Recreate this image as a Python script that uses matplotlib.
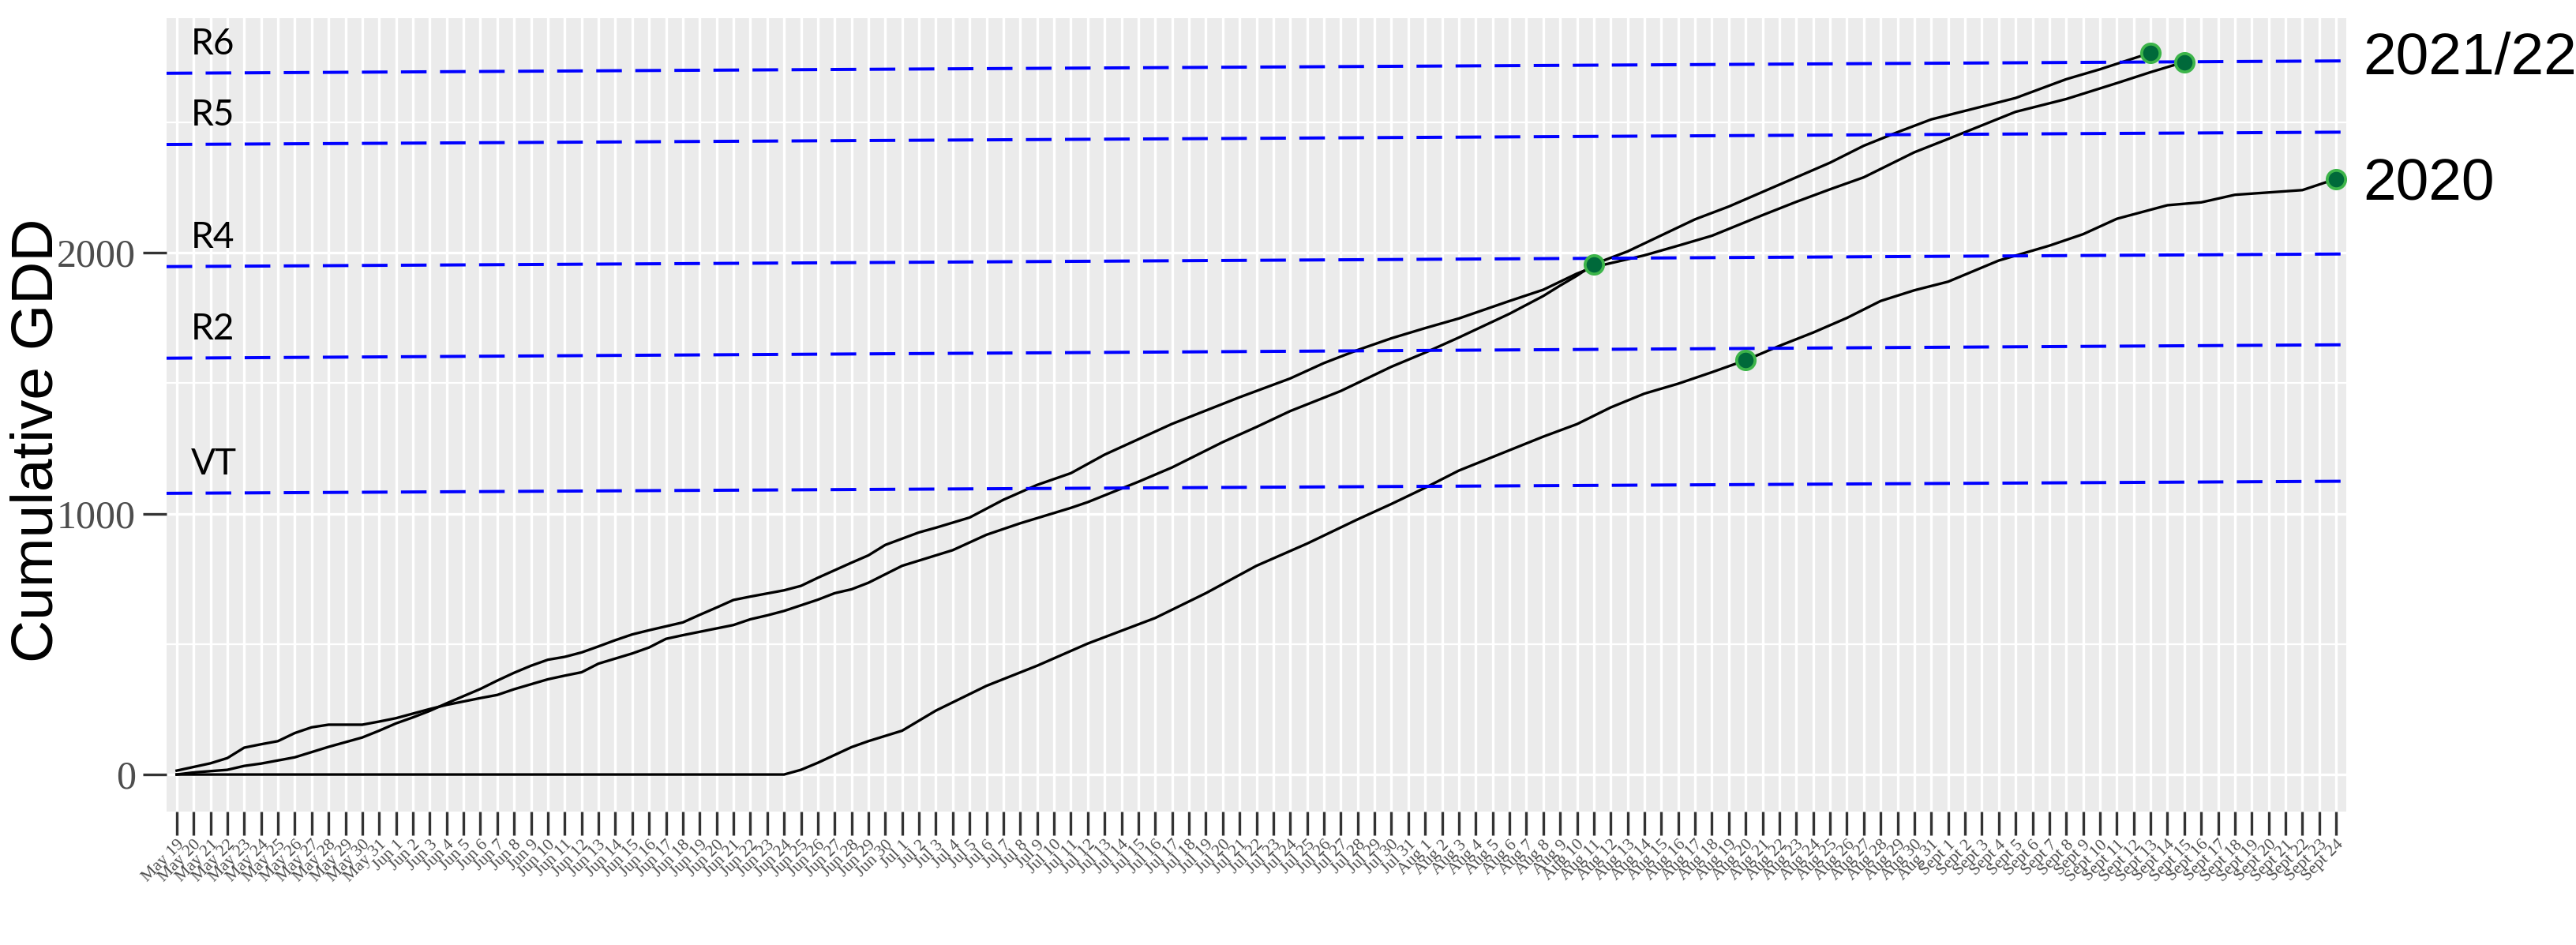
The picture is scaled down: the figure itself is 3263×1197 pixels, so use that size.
import matplotlib
matplotlib.use("Agg")
import numpy as np
import pandas as pd
from matplotlib import pyplot as plt

# season axis: one category per day, May 19 - Sep 24
season_start = "2021-05-19"
season_end = "2021-09-24"
month_names = {5: "May", 6: "Jun", 7: "Jul", 8: "Aug", 9: "Sept"}

# cumulative GDD (dates as MM-DD)
gdd_a_dates = ["05-19", "05-21", "05-22", "05-23", "05-24", "05-25", "05-26", "05-27", "05-28",
               "05-30", "05-31", "06-01", "06-03", "06-04", "06-06", "06-07", "06-08", "06-10",
               "06-11", "06-12", "06-13", "06-15", "06-16", "06-17", "06-18", "06-19", "06-21",
               "06-22", "06-23", "06-24", "06-26", "06-27", "06-28", "06-29", "07-01", "07-04",
               "07-06", "07-08", "07-11", "07-12", "07-15", "07-17", "07-20", "07-22", "07-24",
               "07-27", "07-30", "08-01", "08-03", "08-06", "08-08", "08-09", "08-10", "08-11",
               "08-13", "08-17", "08-19", "08-22", "08-25", "08-27", "08-29", "08-31", "09-03",
               "09-05", "09-08", "09-10", "09-13"]
gdd_a = [15, 43, 63, 103, 116, 128, 159, 181, 191,
         191, 203, 216, 251, 267, 293, 305, 327, 365,
         379, 392, 425, 464, 487, 520, 534, 547, 573,
         595, 610, 627, 670, 695, 710, 735, 800, 860,
         919, 963, 1022, 1044, 1122, 1177, 1274, 1332, 1393,
         1470, 1563, 1617, 1675, 1766, 1834, 1874, 1912, 1956,
         2005, 2128, 2177, 2261, 2345, 2410, 2462, 2511, 2560,
         2593, 2665, 2703, 2766]

gdd_b_dates = ["05-19", "05-20", "05-22", "05-23", "05-24", "05-26", "05-27", "05-28", "05-29",
               "05-30", "05-31", "06-01", "06-02", "06-03", "06-04", "06-06", "06-07", "06-08",
               "06-09", "06-10", "06-11", "06-12", "06-13", "06-14", "06-15", "06-16", "06-18",
               "06-19", "06-20", "06-21", "06-22", "06-23", "06-24", "06-25", "06-26", "06-27",
               "06-28", "06-29", "06-30", "07-02", "07-03", "07-05", "07-07", "07-09", "07-11",
               "07-13", "07-15", "07-17", "07-19", "07-21", "07-24", "07-26", "07-28", "07-30",
               "08-01", "08-03", "08-06", "08-08", "08-10", "08-11", "08-14", "08-16", "08-18",
               "08-21", "08-23", "08-25", "08-27", "08-30", "09-01", "09-05", "09-08", "09-11",
               "09-13", "09-15"]
gdd_b = [0, 8, 18, 33, 42, 66, 86, 106, 124,
         142, 168, 196, 219, 244, 273, 328, 360, 390,
         417, 440, 451, 468, 491, 515, 537, 553, 583,
         612, 640, 669, 682, 694, 706, 723, 754, 783,
         812, 840, 880, 928, 946, 985, 1053, 1110, 1155,
         1226, 1285, 1344, 1395, 1446, 1518, 1577, 1627, 1672,
         1711, 1748, 1815, 1858, 1920, 1945, 1990, 2027, 2065,
         2144, 2195, 2243, 2289, 2385, 2436, 2540, 2589, 2650,
         2692, 2731]

gdd_2020_dates = ["05-19", "06-24", "06-25", "06-26", "06-27", "06-28", "06-29", "07-01", "07-03",
                  "07-06", "07-09", "07-12", "07-16", "07-19", "07-22", "07-25", "07-28", "07-30",
                  "08-01", "08-03", "08-06", "08-08", "08-10", "08-12", "08-14", "08-16", "08-18",
                  "08-20", "08-22", "08-24", "08-26", "08-28", "08-30", "09-01", "09-04", "09-07",
                  "09-09", "09-11", "09-14", "09-16", "09-18", "09-22", "09-24"]
gdd_2020 = [0, 0, 18, 45, 75, 105, 128, 168, 245,
            340, 417, 502, 600, 695, 800, 885, 978, 1037,
            1099, 1165, 1243, 1295, 1343, 1407, 1460, 1498, 1542,
            1588, 1643, 1694, 1750, 1815, 1856, 1889, 1970, 2027,
            2071, 2130, 2182, 2193, 2222, 2240, 2283]

# growth stage reached (green dots)
stage_dot_dates = ["08-11", "08-20", "09-13", "09-15", "09-24"]
stage_dot_gdd = [1956, 1588, 2766, 2731, 2283]

# stage thresholds (dashed), value at first and last day
stage_names = ["VT", "R2", "R4", "R5", "R6"]
stage_first = [1078, 1596, 1947, 2415, 2688]
stage_last = [1124, 1647, 1995, 2462, 2735]

series_labels = ["2021/22", "2020"]
y_ticks = [0, 1000, 2000]
y_minor = [500, 1500, 2500]

days = pd.date_range(season_start, season_end, freq="D")
tick_labels = [f"{month_names[d.month]} {d.day}" for d in days]
start = pd.Timestamp(season_start)


def positions(mmdd_list):
    return np.array([(pd.Timestamp(f"2021-{s}") - start).days + 1 for s in mmdd_list])


W, H, DPI = 3263, 1197, 300
fig = plt.figure(figsize=(W / DPI, H / DPI), dpi=DPI)
ax = fig.add_axes([211 / W, 1 - 1028 / H, (2972 - 211) / W, (1028 - 23) / H])
ax.set_facecolor("#EBEBEB")
for s in ax.spines.values():
    s.set_visible(False)

n_days = len(days)
ax.set_xlim(0.4, n_days + 0.6)
ax.set_ylim(-142, 2899)

# grid
ax.set_xticks(np.arange(1, n_days + 1))
ax.set_xticklabels(tick_labels, rotation=45, ha="right", va="top", rotation_mode="anchor",
                   family="Liberation Serif", fontsize=5.2, color="#4D4D4D")
ax.set_yticks(y_ticks)
ax.set_yticklabels([str(v) for v in y_ticks], family="Liberation Serif", fontsize=12, color="#4D4D4D")
ax.set_yticks(y_minor, minor=True)
ax.tick_params(axis="both", which="major", length=7.2, width=0.8, color="#333333")
ax.tick_params(axis="x", pad=0.6)
ax.tick_params(axis="y", pad=2.2)
ax.tick_params(axis="y", which="minor", length=0)
ax.grid(True, which="major", color="white", linewidth=0.8)
ax.grid(True, which="minor", axis="y", color="white", linewidth=0.55)
ax.set_axisbelow(True)

# GDD curves
ax.plot(positions(gdd_a_dates), gdd_a, color="black", linewidth=0.8, zorder=3)
ax.plot(positions(gdd_b_dates), gdd_b, color="black", linewidth=0.8, zorder=3)
ax.plot(positions(gdd_2020_dates), gdd_2020, color="black", linewidth=0.8, zorder=3)

# stage lines + labels
for name, y0, y1 in zip(stage_names, stage_first, stage_last):
    ln = ax.axline((1, y0), (n_days, y1), color="#0000FF", linewidth=0.95, zorder=4)
    ln.set_dashes((8.2, 4.3))
    ax.text(1.85, y0 + 72, name, ha="left", va="baseline", fontsize=11,
            family="Lato", color="black", zorder=5)

ax.plot(positions(stage_dot_dates), stage_dot_gdd, linestyle="none", marker="o",
        markersize=5.6, markerfacecolor="#00693A", markeredgecolor="#3DB54A",
        markeredgewidth=0.9, zorder=6)

# series labels outside the panel
ax.text(n_days + 1.6, gdd_a[-1], series_labels[0], ha="left", va="center_baseline",
        fontsize=18, family="Liberation Sans", clip_on=False)
ax.text(n_days + 1.6, gdd_2020[-1], series_labels[1], ha="left", va="center_baseline",
        fontsize=18, family="Liberation Sans", clip_on=False)

ax.set_ylabel("Cumulative GDD", fontsize=18, family="Liberation Sans", color="black")
ax.yaxis.set_label_coords(-0.047, 0.468)

fig.savefig("out.png", dpi=DPI)
